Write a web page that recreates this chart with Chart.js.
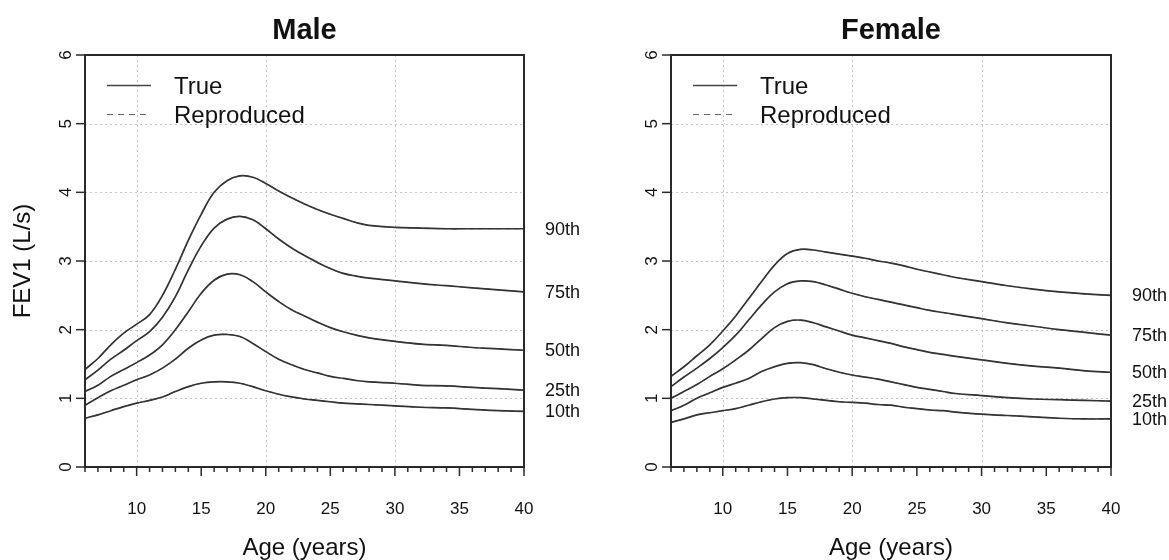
<!DOCTYPE html>
<html>
<head>
<meta charset="utf-8">
<script src="https://cdn.jsdelivr.net/npm/chart.js@4.4.1/dist/chart.umd.min.js"></script>
<style>
  html, body { margin: 0; padding: 0; background: #ffffff; }
  #wrap { position: relative; width: 1169px; height: 560px; background: #fff; }
  canvas { position: absolute; top: 0; }
  #cMale { left: 0; }
  #cFemale { left: 585px; }
</style>
</head>
<body>
<div id="wrap">
  <canvas id="cMale" width="585" height="560"></canvas>
  <canvas id="cFemale" width="584" height="560"></canvas>
</div>
<script>
// ---------- data ----------
const ages = [6,7,8,9,10,11,12,13,14,15,16,17,18,19,20,21,22,23,24,25,26,27,28,30,32,34,36,38,40];
const percentileLabels = ['90th','75th','50th','25th','10th'];
const panelTitles = ['Male','Female'];
const xTicksMajor = [10,15,20,25,30,35,40];
const yTicks = [0,1,2,3,4,5,6];
const xGrid = [10,20,30,40];
const yGrid = [1,2,3,4,5];

const male90 = [1.42,1.58,1.78,1.95,2.08,2.22,2.50,2.88,3.30,3.68,4.00,4.17,4.24,4.22,4.13,4.02,3.92,3.83,3.75,3.68,3.62,3.56,3.52,3.49,3.48,3.47,3.47,3.47,3.47];
const male75 = [1.27,1.41,1.57,1.70,1.84,1.97,2.18,2.48,2.87,3.22,3.48,3.61,3.65,3.60,3.47,3.32,3.19,3.08,2.98,2.89,2.82,2.78,2.75,2.71,2.67,2.64,2.61,2.58,2.55];
const male50 = [1.10,1.19,1.32,1.42,1.52,1.63,1.78,2.00,2.26,2.53,2.72,2.81,2.80,2.70,2.55,2.41,2.29,2.20,2.11,2.03,1.97,1.92,1.88,1.83,1.79,1.77,1.74,1.72,1.70];
const male25 = [0.90,1.01,1.11,1.19,1.27,1.34,1.44,1.57,1.73,1.85,1.92,1.93,1.90,1.80,1.68,1.57,1.49,1.42,1.37,1.32,1.29,1.26,1.24,1.22,1.19,1.18,1.16,1.14,1.12];
const male10 = [0.71,0.76,0.82,0.88,0.93,0.97,1.02,1.10,1.17,1.22,1.24,1.24,1.22,1.17,1.11,1.06,1.02,0.99,0.97,0.95,0.93,0.92,0.91,0.89,0.87,0.86,0.84,0.82,0.81];

const female90 = [1.32,1.46,1.62,1.78,1.98,2.20,2.45,2.70,2.94,3.11,3.17,3.16,3.13,3.10,3.07,3.04,3.00,2.97,2.93,2.88,2.84,2.80,2.76,2.70,2.64,2.59,2.55,2.52,2.50];
const female75 = [1.17,1.31,1.44,1.58,1.74,1.92,2.14,2.36,2.55,2.67,2.71,2.70,2.65,2.59,2.53,2.48,2.44,2.40,2.36,2.32,2.28,2.25,2.22,2.16,2.10,2.05,2.00,1.96,1.92];
const female50 = [1.00,1.10,1.20,1.32,1.43,1.56,1.70,1.87,2.03,2.12,2.14,2.10,2.04,1.98,1.92,1.88,1.84,1.80,1.75,1.71,1.67,1.64,1.61,1.56,1.51,1.47,1.44,1.40,1.38];
const female25 = [0.82,0.90,1.00,1.08,1.16,1.22,1.29,1.39,1.46,1.51,1.52,1.49,1.43,1.38,1.34,1.31,1.28,1.24,1.20,1.16,1.13,1.10,1.07,1.04,1.01,0.99,0.98,0.97,0.96];
const female10 = [0.65,0.70,0.76,0.79,0.82,0.85,0.90,0.95,0.99,1.01,1.01,0.99,0.97,0.95,0.94,0.93,0.91,0.90,0.87,0.85,0.83,0.82,0.80,0.77,0.75,0.73,0.71,0.70,0.70];

// Reproduced curves coincide with the true ones in the picture
const maleSeries = [male90, male75, male50, male25, male10];
const femaleSeries = [female90, female75, female50, female25, female10];

// ---------- helpers ----------
const FONT = '"Liberation Sans", Arial, Helvetica, sans-serif';
const LINE_COLOR = '#333333';

function toPts(vals) { return ages.map((a, i) => ({x: a, y: vals[i]})); }

function buildDatasets(series) {
  const ds = [];
  series.forEach((vals, i) => {
    ds.push({
      label: 'True ' + percentileLabels[i],
      data: toPts(vals),
      borderColor: LINE_COLOR,
      borderWidth: 1.7,
      pointRadius: 0,
      tension: 0.4,
      fill: false
    });
  });
  series.forEach((vals, i) => {
    ds.push({
      label: 'Reproduced ' + percentileLabels[i],
      data: toPts(vals),
      borderColor: '#5a5a5a',
      borderWidth: 1,
      borderDash: [5, 4],
      pointRadius: 0,
      tension: 0.4,
      fill: false
    });
  });
  return ds;
}

const decorPlugin = {
  id: 'rdecor',
  beforeDatasetsDraw(chart, args, opts) {
    const {ctx, chartArea: ca, scales: {x, y}} = chart;
    ctx.save();
    ctx.strokeStyle = '#c4c4c4';
    ctx.lineWidth = 1;
    ctx.setLineDash([2, 3]);
    xGrid.forEach(v => {
      const px = Math.round(x.getPixelForValue(v)) + 0.5;
      ctx.beginPath(); ctx.moveTo(px, ca.top); ctx.lineTo(px, ca.bottom); ctx.stroke();
    });
    yGrid.forEach(v => {
      const py = Math.round(y.getPixelForValue(v)) + 0.5;
      ctx.beginPath(); ctx.moveTo(ca.left, py); ctx.lineTo(ca.right, py); ctx.stroke();
    });
    ctx.restore();
  },
  afterDraw(chart, args, opts) {
    const {ctx, chartArea: ca, scales: {x, y}} = chart;
    ctx.save();
    // box
    ctx.strokeStyle = '#2a2a2a';
    ctx.lineWidth = 2;
    ctx.setLineDash([]);
    ctx.strokeRect(ca.left, ca.top, ca.right - ca.left, ca.bottom - ca.top);
    // x ticks: minor every year, major every 5
    ctx.lineWidth = 1.5;
    for (let v = 6; v <= 40; v++) {
      const px = x.getPixelForValue(v);
      const len = (v % 5 === 0) ? 9 : 5;
      ctx.beginPath(); ctx.moveTo(px, ca.bottom); ctx.lineTo(px, ca.bottom + len); ctx.stroke();
    }
    // y ticks
    yTicks.forEach(v => {
      const py = y.getPixelForValue(v);
      ctx.beginPath(); ctx.moveTo(ca.left, py); ctx.lineTo(ca.left - 9, py); ctx.stroke();
    });
    ctx.fillStyle = '#111111';
    // x tick labels
    ctx.font = '17px ' + FONT;
    ctx.textAlign = 'center';
    ctx.textBaseline = 'alphabetic';
    xTicksMajor.forEach(v => {
      ctx.fillText(String(v), x.getPixelForValue(v), 513.5);
    });
    // y tick labels (rotated, R style)
    yTicks.forEach(v => {
      const py = y.getPixelForValue(v);
      ctx.save();
      ctx.translate(ca.left - 14, py);
      ctx.rotate(-Math.PI / 2);
      ctx.textAlign = 'center';
      ctx.textBaseline = 'alphabetic';
      ctx.fillText(String(v), 0, 0);
      ctx.restore();
    });
    const cx = (ca.left + ca.right) / 2;
    // title
    ctx.font = 'bold 29px ' + FONT;
    ctx.textAlign = 'center';
    ctx.fillText(opts.title, cx, 38.5);
    // x axis title
    ctx.font = '24px ' + FONT;
    ctx.fillText('Age (years)', cx, 555);
    // y axis title
    if (opts.yTitle) {
      ctx.save();
      ctx.translate(ca.left - 55, (ca.top + ca.bottom) / 2);
      ctx.rotate(-Math.PI / 2);
      ctx.textAlign = 'center';
      ctx.fillText(opts.yTitle, 0, 0);
      ctx.restore();
    }
    // legend
    const lx0 = ca.left + 22, lx1 = ca.left + 66, tx = ca.left + 89;
    ctx.strokeStyle = '#444444';
    ctx.lineWidth = 1.3;
    ctx.beginPath(); ctx.moveTo(lx0, 85.5); ctx.lineTo(lx1, 85.5); ctx.stroke();
    ctx.strokeStyle = '#666666';
    ctx.lineWidth = 1;
    ctx.setLineDash([6, 5]);
    ctx.beginPath(); ctx.moveTo(lx0, 114.5); ctx.lineTo(lx1, 114.5); ctx.stroke();
    ctx.setLineDash([]);
    ctx.font = '24px ' + FONT;
    ctx.textAlign = 'left';
    ctx.textBaseline = 'alphabetic';
    ctx.fillText('True', tx, 93.5);
    ctx.fillText('Reproduced', tx, 123);
    // percentile labels at right end of each curve
    ctx.font = '18px ' + FONT;
    ctx.textBaseline = 'middle';
    opts.series.forEach((vals, i) => {
      const py = y.getPixelForValue(vals[vals.length - 1]);
      ctx.fillText(percentileLabels[i], ca.right + 21, py + 1);
    });
    ctx.restore();
  }
};

function makeChart(id, series, title, yTitle, padLeft, padRight) {
  return new Chart(document.getElementById(id), {
    type: 'line',
    data: { datasets: buildDatasets(series) },
    options: {
      responsive: false,
      animation: false,
      devicePixelRatio: 1,
      layout: { padding: { left: padLeft, right: padRight, top: 55, bottom: 93 } },
      plugins: {
        legend: { display: false },
        tooltip: { enabled: false },
        rdecor: { title: title, yTitle: yTitle, series: series }
      },
      scales: {
        x: { type: 'linear', min: 6, max: 40, display: false },
        y: { type: 'linear', min: 0, max: 6, display: false }
      }
    },
    plugins: [decorPlugin]
  });
}

makeChart('cMale', maleSeries, panelTitles[0], 'FEV1 (L/s)', 85, 61);
makeChart('cFemale', femaleSeries, panelTitles[1], null, 86, 58);
</script>
</body>
</html>
